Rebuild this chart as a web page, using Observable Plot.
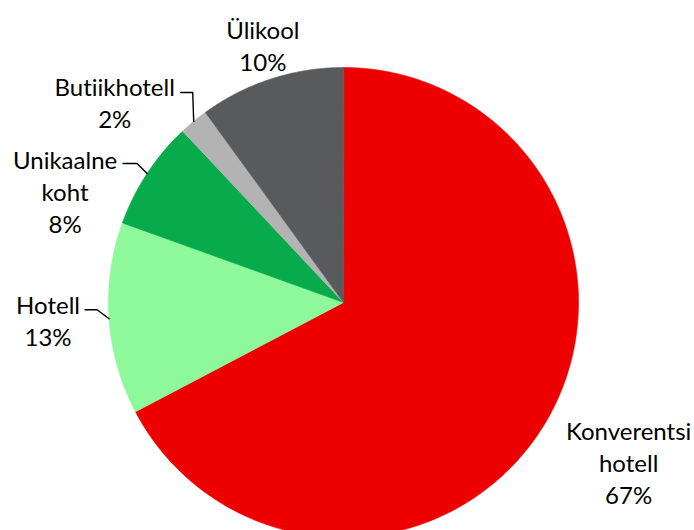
<!DOCTYPE html>
<html><head><meta charset="utf-8">
<script src="https://cdn.jsdelivr.net/npm/d3@7"></script>
<script src="https://cdn.jsdelivr.net/npm/@observablehq/plot@0.6"></script>
<style>body{margin:0;background:#fff} svg text{font-variant-ligatures:none;font-feature-settings:"liga" 0,"clig" 0}</style>
</head><body><div id="chart"></div>
<script>
// ---- data ----
const categories = ["Konverentsi hotell", "Hotell", "Unikaalne koht", "Butiikhotell", "Ülikool"];
const labelNames = ["Konverentsi\nhotell", "Hotell", "Unikaalne\nkoht", "Butiikhotell", "Ülikool"];
const values = [67.3, 13.2, 7.5, 2.0, 10.0];
const colors = ["#EE0000", "#8DF99B", "#07AB4C", "#B3B3B3", "#595A5C"];

// ---- layout (pixels) ----
const W = 694, H = 530, cx = 343, cy = 302, R = 235;
const labelOffsets = [[84, 37.5], [-61, 1.5], [-82, 17], [-79, -20], [-8, -34.5]];
const leaderElbows = [null, [-12, -9], [-10, -10], [-1, -29], null];
const leaderTails = [0, 12, 14, 12, 0];

const total = d3.sum(values);
let acc = 0;
const slices = values.map((v, i) => {
  const a0 = acc / total * 2 * Math.PI; acc += v;
  const a1 = acc / total * 2 * Math.PI;
  return {name: categories[i], a0, a1, mid: (a0 + a1) / 2, v, i};
});

const polyPts = [];
slices.forEach(s => {
  polyPts.push({name: s.name, x: 0, y: 0});
  const n = Math.max(2, Math.ceil((s.a1 - s.a0) / (Math.PI / 360)));
  for (let k = 0; k <= n; k++) {
    const a = s.a0 + (s.a1 - s.a0) * k / n;
    polyPts.push({name: s.name, x: R * Math.sin(a), y: R * Math.cos(a)});
  }
});

const labels = slices.map(s => {
  const ax = R * Math.sin(s.mid), ay = R * Math.cos(s.mid);
  const [ox, oy] = labelOffsets[s.i];
  return {x: ax + ox, y: ay - oy, text: labelNames[s.i] + "\n" + Math.round(s.v / total * 100) + "%"};
});

const leaderPts = [];
slices.forEach(s => {
  const e = leaderElbows[s.i];
  if (!e) return;
  const ax = R * Math.sin(s.mid), ay = R * Math.cos(s.mid);
  leaderPts.push({k: s.name, x: ax, y: ay});
  leaderPts.push({k: s.name, x: ax + e[0], y: ay - e[1]});
  leaderPts.push({k: s.name, x: ax + e[0] - leaderTails[s.i], y: ay - e[1]});
});

const chart = Plot.plot({
  width: W, height: H,
  marginTop: 0, marginRight: 0, marginBottom: 0, marginLeft: 0,
  x: {domain: [-cx, W - cx], range: [0, W], axis: null},
  y: {domain: [-(H - cy), cy], range: [H, 0], axis: null},
  color: {domain: categories, range: colors},
  style: {fontFamily: "Lato, 'Open Sans', sans-serif", background: "#fff"},
  marks: [
    Plot.line(polyPts, {x: "x", y: "y", z: "name", fill: "name", stroke: "name", strokeWidth: 0.6, curve: "linear-closed"}),
    Plot.line(leaderPts, {x: "x", y: "y", z: "k", stroke: "#000", strokeWidth: 1.4}),
    Plot.text(labels, {x: "x", y: "y", text: "text", fontSize: 24, lineHeight: 1.33, lineAnchor: "middle", textAnchor: "middle", fill: "#000"})
  ]
});
document.getElementById("chart").appendChild(chart);
</script>
</body></html>
